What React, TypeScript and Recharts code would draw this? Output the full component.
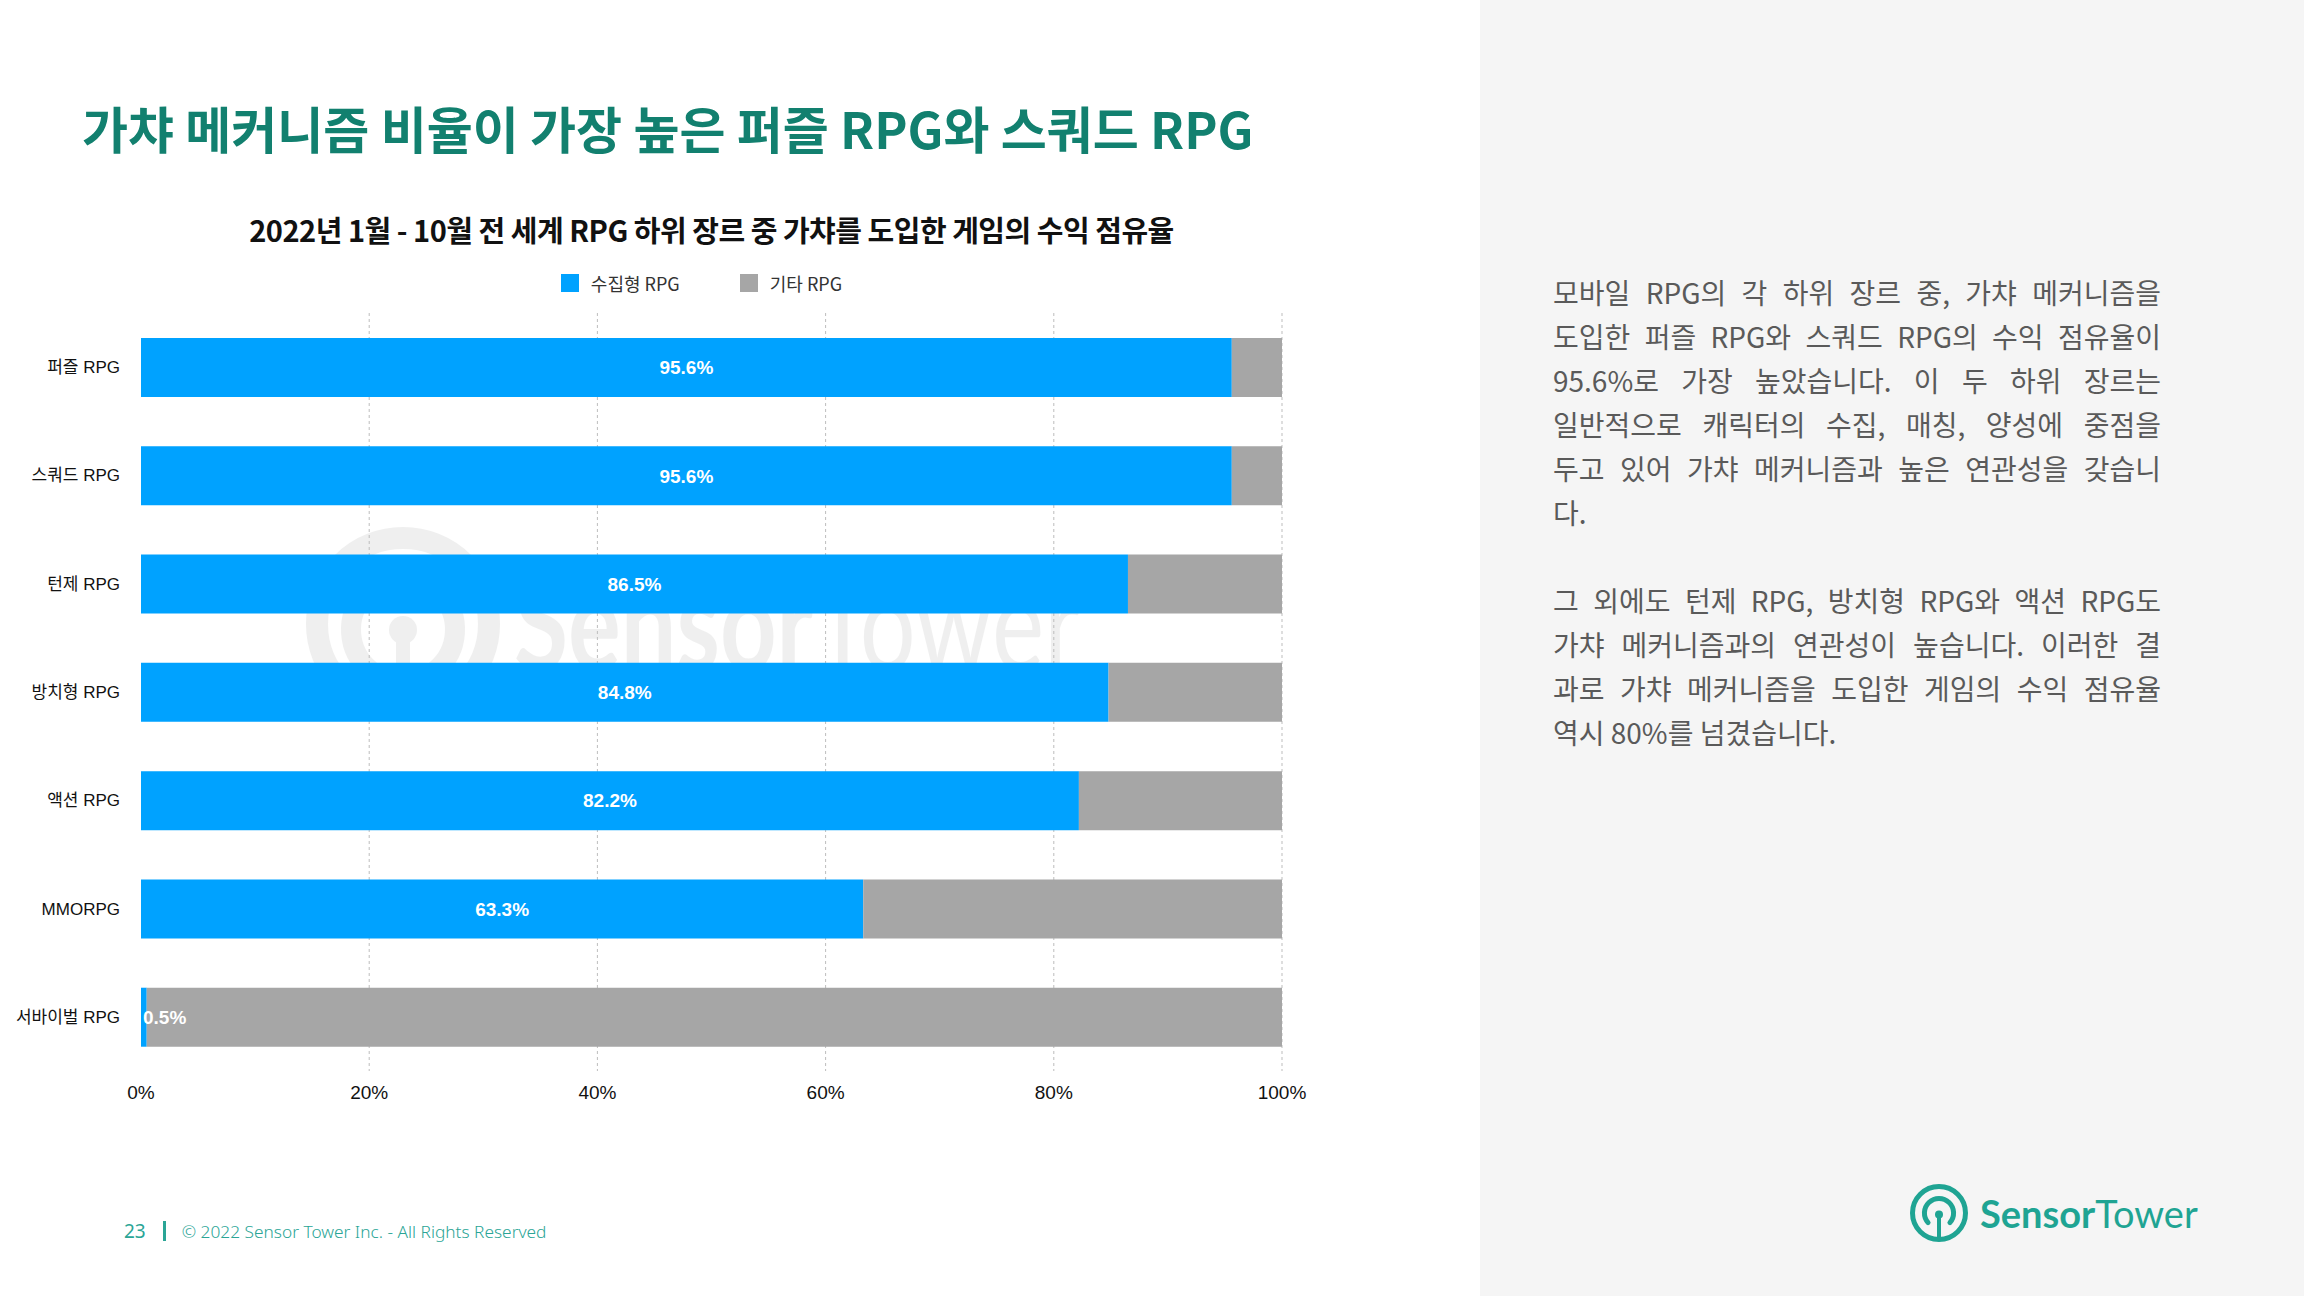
import { BarChart, Bar, XAxis, YAxis, CartesianGrid, Legend, LabelList } from "recharts";

const genres = ["퍼즐 RPG", "스쿼드 RPG", "턴제 RPG", "방치형 RPG", "액션 RPG", "MMORPG", "서바이벌 RPG"];
const gachaShare = [95.6, 95.6, 86.5, 84.8, 82.2, 63.3, 0.5];
const otherShare = [4.4, 4.4, 13.5, 15.2, 17.8, 36.7, 99.5];
const xTicks = [0, 20, 40, 60, 80, 100];
const gridValues = [20, 40, 60, 80, 100];

const seriesNames = { gacha: "수집형 RPG", other: "기타 RPG" };
const legendOrder = [seriesNames.gacha, seriesNames.other];

const BLUE = "#00A2FF";
const GRAY = "#A6A6A6";
const TEAL = "#12806F";
const LATIN = '"Liberation Sans", "Noto Sans CJK KR", sans-serif';
const KR = '"Noto Sans CJK KR", "Noto Sans", sans-serif';

const rows = genres.map((name, i) => ({ name, gacha: gachaShare[i], other: otherShare[i] }));

const paragraphs = [
  [
    "모바일 RPG의 각 하위 장르 중, 가챠 메커니즘을",
    "도입한 퍼즐 RPG와 스쿼드 RPG의 수익 점유율이",
    "95.6%로 가장 높았습니다. 이 두 하위 장르는",
    "일반적으로 캐릭터의 수집, 매칭, 양성에 중점을",
    "두고 있어 가챠 메커니즘과 높은 연관성을 갖습니",
    "다.",
  ],
  [
    "그 외에도 턴제 RPG, 방치형 RPG와 액션 RPG도",
    "가챠 메커니즘과의 연관성이 높습니다. 이러한 결",
    "과로 가챠 메커니즘을 도입한 게임의 수익 점유율",
    "역시 80%를 넘겼습니다.",
  ],
];

// value text sits in the middle of the blue segment, or just inside its start when the segment is tiny
const ShareLabel = (props: any) => {
  const { x, y, width, height, value } = props;
  const small = width < 60;
  return (
    <text
      x={small ? x + 2 : x + width / 2}
      y={y + height / 2}
      dy="0.36em"
      textAnchor={small ? "start" : "middle"}
      fill="#fff"
      fontFamily={LATIN}
      fontWeight={700}
      fontSize={19}
    >
      {`${value}%`}
    </text>
  );
};

const LegendBox = ({ payload }: any) => {
  const items = [...(payload || [])].sort((a: any, b: any) => legendOrder.indexOf(a.value) - legendOrder.indexOf(b.value));
  return (
    <div style={{ display: "flex", justifyContent: "center", gap: 60, fontFamily: KR, fontSize: 18, color: "#333" }}>
      {items.map((p: any) => (
        <div key={p.value} style={{ display: "flex", alignItems: "center" }}>
          <span style={{ width: 18, height: 18, background: p.color, marginRight: 12, display: "inline-block" }} />
          <span>{p.value}</span>
        </div>
      ))}
    </div>
  );
};

function LogoMark({ size, color, stroke }: { size: number; color: string; stroke: number }) {
  const r = size / 2 - stroke / 2;
  const c = size / 2;
  const ir = r * 0.55;
  return (
    <svg width={size} height={size}>
      <circle cx={c} cy={c} r={r} fill="none" stroke={color} strokeWidth={stroke} />
      <path
        d={`M ${c - ir * 0.75} ${c + ir * 0.66} A ${ir} ${ir} 0 1 1 ${c + ir * 0.75} ${c + ir * 0.66}`}
        fill="none"
        stroke={color}
        strokeWidth={stroke}
        strokeLinecap="round"
      />
      <circle cx={c} cy={c + stroke * 0.3} r={stroke * 0.8} fill={color} />
      <line x1={c} y1={c} x2={c} y2={size - stroke} stroke={color} strokeWidth={stroke * 0.8} />
    </svg>
  );
}

export default function App() {
  return (
    <div style={{ position: "relative", width: 2304, height: 1296, background: "#fff", overflow: "hidden" }}>
      <style>{"body{margin:0}"}</style>

      {/* right-hand commentary panel */}
      <div style={{ position: "absolute", left: 1480, top: 0, width: 824, height: 1296, background: "#F5F5F5" }} />

      <div
        style={{
          position: "absolute",
          left: 82,
          top: 91,
          fontFamily: KR,
          fontWeight: 700,
          fontSize: 50,
          color: TEAL,
          whiteSpace: "nowrap",
        }}
      >
        가챠 메커니즘 비율이 가장 높은 퍼즐 RPG와 스쿼드 RPG
      </div>

      <div
        style={{
          position: "absolute",
          left: 141,
          width: 1141,
          top: 208,
          textAlign: "center",
          fontFamily: KR,
          fontWeight: 700,
          fontSize: 29,
          letterSpacing: -0.5,
          color: "#111",
          whiteSpace: "nowrap",
        }}
      >
        2022년 1월 - 10월 전 세계 RPG 하위 장르 중 가챠를 도입한 게임의 수익 점유율
      </div>

      {/* faint watermark behind the plot */}
      <svg style={{ position: "absolute", left: 300, top: 520 }} width={900} height={210}>
        <g opacity={0.06}>
          <circle cx={103} cy={104} r={86} fill="none" stroke="#000" strokeWidth={22} />
          <path d="M 70 150 A 52 52 0 1 1 136 150" fill="none" stroke="#000" strokeWidth={20} strokeLinecap="round" />
          <circle cx={103} cy={110} r={14} fill="#000" />
          <line x1={103} y1={110} x2={103} y2={186} stroke="#000" strokeWidth={14} />
          <text x={214} y={150} fontFamily="Lato, sans-serif" fontSize={130} textLength={566} lengthAdjust="spacingAndGlyphs" fill="#000">
            <tspan fontWeight={700}>Sensor</tspan>
            <tspan fontWeight={400}>Tower</tspan>
          </text>
        </g>
      </svg>

      <div style={{ position: "absolute", left: 0, top: 250 }}>
        <BarChart
          width={1340}
          height={880}
          data={rows}
          layout="vertical"
          margin={{ top: 33, right: 58, bottom: 29, left: 0 }}
          barSize={59}
        >
          <CartesianGrid horizontal={false} verticalValues={gridValues} stroke="#BDBDBD" strokeDasharray="3 3" />
          <XAxis
            type="number"
            domain={[0, 100]}
            ticks={xTicks}
            tickFormatter={(v) => `${v}%`}
            axisLine={false}
            tickLine={false}
            tickMargin={9}
            tick={{ fill: "#111", fontSize: 19, fontFamily: LATIN }}
          />
          <YAxis
            type="category"
            dataKey="name"
            width={141}
            axisLine={false}
            tickLine={false}
            tickMargin={15}
            tick={{ fill: "#111", fontSize: 17, fontFamily: LATIN }}
          />
          <Legend
            verticalAlign="top"
            wrapperStyle={{ top: 20, left: 131, width: 1141, height: 30 }}
            content={<LegendBox />}
          />
          <Bar dataKey="gacha" name={seriesNames.gacha} stackId="s" fill={BLUE} isAnimationActive={false}>
            <LabelList dataKey="gacha" content={<ShareLabel />} />
          </Bar>
          <Bar dataKey="other" name={seriesNames.other} stackId="s" fill={GRAY} isAnimationActive={false} />
        </BarChart>
      </div>

      <div style={{ position: "absolute", left: 1553, top: 270, width: 608, fontFamily: KR, fontSize: 28, color: "#5A5A5A", lineHeight: "44px" }}>
        {paragraphs.map((lines, pi) => (
          <div key={pi} style={{ marginBottom: pi === 0 ? 44 : 0 }}>
            {lines.map((line, li) => (
              <div
                key={li}
                style={{
                  whiteSpace: "nowrap",
                  textAlign: "justify",
                  textAlignLast: li === lines.length - 1 ? "left" : "justify",
                }}
              >
                {line}
              </div>
            ))}
          </div>
        ))}
      </div>

      <div
        style={{
          position: "absolute",
          left: 124,
          top: 1218,
          fontFamily: '"Noto Sans", sans-serif',
          fontSize: 17.3,
          color: "#2AA596",
          whiteSpace: "nowrap",
          display: "flex",
          alignItems: "center",
        }}
      >
        <span style={{ fontSize: 19 }}>23</span>
        <span style={{ width: 3, height: 20, background: "#2AA596", margin: "0 16px 0 17px", display: "inline-block" }} />
        <span style={{ fontWeight: 300 }}>© 2022 Sensor Tower Inc. - All Rights Reserved</span>
      </div>

      <div style={{ position: "absolute", left: 1910, top: 1184, display: "flex", alignItems: "center" }}>
        <LogoMark size={58} color="#1FA493" stroke={5} />
        <span style={{ marginLeft: 12, fontFamily: "Lato, sans-serif", fontSize: 38, color: "#1FA493", whiteSpace: "nowrap" }}>
          <span style={{ fontWeight: 700 }}>Sensor</span>
          <span style={{ fontWeight: 400 }}>Tower</span>
        </span>
      </div>
    </div>
  );
}
